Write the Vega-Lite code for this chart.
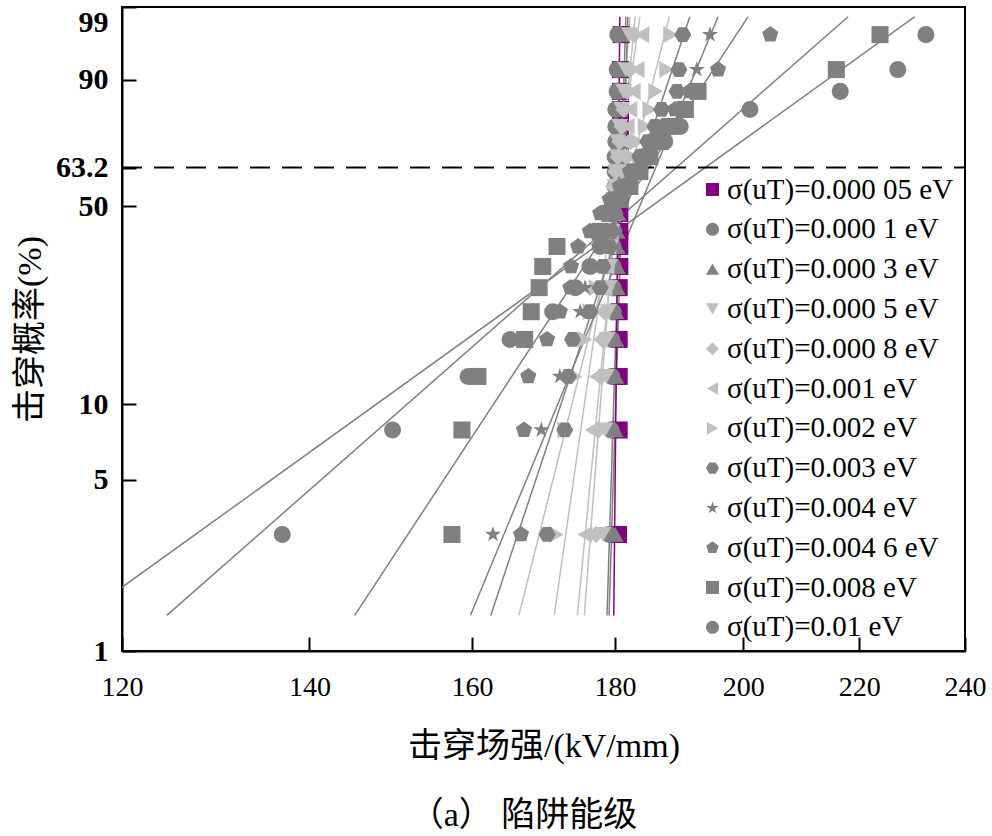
{
  "$schema": "https://vega.github.io/schema/vega-lite/v6.json",
  "width": 843,
  "height": 644,
  "autosize": {"type": "none"},
  "padding": {"left": 122, "top": 7, "right": 27, "bottom": 185},
  "background": "white",
  "config": {
    "view": {"stroke": "black", "strokeWidth": 2},
    "font": "Liberation Serif, Noto Sans CJK SC",
    "axis": {"grid": false, "domainColor": "black", "domainWidth": 2, "tickColor": "black", "tickWidth": 2, "labelColor": "black", "titleColor": "black"}
  },
  "title": {"text": "（a） 陷阱能级", "orient": "bottom", "offset": 36, "dx": -20, "fontSize": 34, "fontWeight": "normal", "font": "Liberation Serif, Noto Sans CJK SC", "color": "black"},
  "datasets": {
    "fits": [
      {"k": "0.000 05", "p": 1.4, "x": 179.8}, {"k": "0.000 05", "p": 98.5, "x": 180.7},
      {"k": "0.000 1", "p": 1.4, "x": 179.1}, {"k": "0.000 1", "p": 98.5, "x": 181.9},
      {"k": "0.000 3", "p": 1.4, "x": 178.8}, {"k": "0.000 3", "p": 98.5, "x": 181.6},
      {"k": "0.000 5", "p": 1.4, "x": 175.5}, {"k": "0.000 5", "p": 98.5, "x": 182.2},
      {"k": "0.000 8", "p": 1.4, "x": 174.5}, {"k": "0.000 8", "p": 98.5, "x": 183.0},
      {"k": "0.001", "p": 1.4, "x": 171.2}, {"k": "0.001", "p": 98.5, "x": 183.7},
      {"k": "0.002", "p": 1.4, "x": 166.3}, {"k": "0.002", "p": 98.5, "x": 188.2},
      {"k": "0.003", "p": 1.4, "x": 162.5}, {"k": "0.003", "p": 98.5, "x": 191.4},
      {"k": "0.004", "p": 1.4, "x": 159.8}, {"k": "0.004", "p": 98.5, "x": 195.9},
      {"k": "0.004 6", "p": 1.4, "x": 145.3}, {"k": "0.004 6", "p": 98.5, "x": 200.8},
      {"k": "0.008", "p": 1.4, "x": 124.5}, {"k": "0.008", "p": 98.5, "x": 218.0},
      {"k": "0.01", "p": 1.4, "x": 116.2}, {"k": "0.01", "p": 98.5, "x": 230.3}
    ],
    "ref": [{"p": 63.2, "x": 120}, {"p": 63.2, "x": 240}],
    "pts": [
      {"s":"0.000 05","p":3.0,"x":180.5},{"s":"0.000 05","p":7.9,"x":180.6},{"s":"0.000 05","p":12.8,"x":180.6},{"s":"0.000 05","p":17.7,"x":180.6},{"s":"0.000 05","p":22.4,"x":180.6},{"s":"0.000 05","p":27.3,"x":180.6},{"s":"0.000 05","p":32.3,"x":180.7},{"s":"0.000 05","p":37.6,"x":180.7},{"s":"0.000 05","p":42.0,"x":180.7},{"s":"0.000 05","p":47.6,"x":180.7},{"s":"0.000 05","p":52.2,"x":180.7},{"s":"0.000 05","p":56.6,"x":180.7},{"s":"0.000 05","p":61.8,"x":180.7},{"s":"0.000 05","p":67.0,"x":180.8},{"s":"0.000 05","p":72.2,"x":180.8},{"s":"0.000 05","p":77.2,"x":180.8},{"s":"0.000 05","p":82.4,"x":180.8},{"s":"0.000 05","p":87.3,"x":180.8},{"s":"0.000 05","p":92.1,"x":180.8},{"s":"0.000 05","p":97.1,"x":180.9},
      {"s":"0.000 1","p":3.0,"x":179.1},{"s":"0.000 1","p":7.9,"x":179.4},{"s":"0.000 1","p":12.8,"x":179.5},{"s":"0.000 1","p":17.7,"x":179.5},{"s":"0.000 1","p":22.4,"x":179.7},{"s":"0.000 1","p":27.3,"x":179.7},{"s":"0.000 1","p":32.3,"x":179.7},{"s":"0.000 1","p":37.6,"x":179.7},{"s":"0.000 1","p":42.0,"x":179.8},{"s":"0.000 1","p":47.6,"x":179.8},{"s":"0.000 1","p":52.2,"x":179.8},{"s":"0.000 1","p":56.6,"x":180.0},{"s":"0.000 1","p":61.8,"x":180.0},{"s":"0.000 1","p":67.0,"x":180.0},{"s":"0.000 1","p":72.2,"x":180.1},{"s":"0.000 1","p":77.2,"x":180.1},{"s":"0.000 1","p":82.4,"x":180.1},{"s":"0.000 1","p":87.3,"x":180.3},{"s":"0.000 1","p":92.1,"x":180.3},{"s":"0.000 1","p":97.1,"x":180.4},
      {"s":"0.000 3","p":3.0,"x":180.0},{"s":"0.000 3","p":7.9,"x":180.0},{"s":"0.000 3","p":12.8,"x":180.1},{"s":"0.000 3","p":17.7,"x":180.1},{"s":"0.000 3","p":22.4,"x":180.1},{"s":"0.000 3","p":27.3,"x":180.3},{"s":"0.000 3","p":32.3,"x":180.3},{"s":"0.000 3","p":37.6,"x":180.3},{"s":"0.000 3","p":42.0,"x":180.3},{"s":"0.000 3","p":47.6,"x":180.4},{"s":"0.000 3","p":52.2,"x":180.4},{"s":"0.000 3","p":56.6,"x":180.4},{"s":"0.000 3","p":61.8,"x":180.4},{"s":"0.000 3","p":67.0,"x":180.6},{"s":"0.000 3","p":72.2,"x":180.6},{"s":"0.000 3","p":77.2,"x":180.6},{"s":"0.000 3","p":82.4,"x":180.7},{"s":"0.000 3","p":87.3,"x":180.7},{"s":"0.000 3","p":92.1,"x":180.9},{"s":"0.000 3","p":97.1,"x":180.9},
      {"s":"0.000 5","p":3.0,"x":178.2},{"s":"0.000 5","p":7.9,"x":178.5},{"s":"0.000 5","p":12.8,"x":178.7},{"s":"0.000 5","p":17.7,"x":178.8},{"s":"0.000 5","p":22.4,"x":179.0},{"s":"0.000 5","p":27.3,"x":179.1},{"s":"0.000 5","p":32.3,"x":179.2},{"s":"0.000 5","p":37.6,"x":179.4},{"s":"0.000 5","p":42.0,"x":179.5},{"s":"0.000 5","p":47.6,"x":179.7},{"s":"0.000 5","p":52.2,"x":179.8},{"s":"0.000 5","p":56.6,"x":180.0},{"s":"0.000 5","p":61.8,"x":180.1},{"s":"0.000 5","p":67.0,"x":180.3},{"s":"0.000 5","p":72.2,"x":180.4},{"s":"0.000 5","p":77.2,"x":180.7},{"s":"0.000 5","p":82.4,"x":181.0},{"s":"0.000 5","p":87.3,"x":181.3},{"s":"0.000 5","p":92.1,"x":181.6},{"s":"0.000 5","p":97.1,"x":182.1},
      {"s":"0.000 8","p":3.0,"x":177.2},{"s":"0.000 8","p":7.9,"x":177.5},{"s":"0.000 8","p":12.8,"x":177.8},{"s":"0.000 8","p":17.7,"x":178.1},{"s":"0.000 8","p":22.4,"x":178.4},{"s":"0.000 8","p":27.3,"x":178.7},{"s":"0.000 8","p":32.3,"x":178.8},{"s":"0.000 8","p":37.6,"x":179.0},{"s":"0.000 8","p":42.0,"x":179.2},{"s":"0.000 8","p":47.6,"x":179.4},{"s":"0.000 8","p":52.2,"x":179.7},{"s":"0.000 8","p":56.6,"x":179.8},{"s":"0.000 8","p":61.8,"x":180.1},{"s":"0.000 8","p":67.0,"x":180.4},{"s":"0.000 8","p":72.2,"x":180.7},{"s":"0.000 8","p":77.2,"x":181.0},{"s":"0.000 8","p":82.4,"x":181.3},{"s":"0.000 8","p":87.3,"x":181.8},{"s":"0.000 8","p":92.1,"x":182.2},{"s":"0.000 8","p":97.1,"x":182.8},
      {"s":"0.001","p":3.0,"x":175.6},{"s":"0.001","p":7.9,"x":176.6},{"s":"0.001","p":12.8,"x":177.2},{"s":"0.001","p":17.7,"x":177.8},{"s":"0.001","p":22.4,"x":178.2},{"s":"0.001","p":27.3,"x":178.5},{"s":"0.001","p":32.3,"x":178.8},{"s":"0.001","p":37.6,"x":179.1},{"s":"0.001","p":42.0,"x":179.4},{"s":"0.001","p":47.6,"x":179.7},{"s":"0.001","p":52.2,"x":180.0},{"s":"0.001","p":56.6,"x":180.3},{"s":"0.001","p":61.8,"x":180.6},{"s":"0.001","p":67.0,"x":180.9},{"s":"0.001","p":72.2,"x":181.3},{"s":"0.001","p":77.2,"x":181.8},{"s":"0.001","p":82.4,"x":182.2},{"s":"0.001","p":87.3,"x":182.7},{"s":"0.001","p":92.1,"x":183.3},{"s":"0.001","p":97.1,"x":184.0},
      {"s":"0.002","p":3.0,"x":171.5},{"s":"0.002","p":7.9,"x":172.7},{"s":"0.002","p":12.8,"x":174.2},{"s":"0.002","p":17.7,"x":175.6},{"s":"0.002","p":22.4,"x":176.3},{"s":"0.002","p":27.3,"x":177.2},{"s":"0.002","p":32.3,"x":177.8},{"s":"0.002","p":37.6,"x":178.4},{"s":"0.002","p":42.0,"x":179.0},{"s":"0.002","p":47.6,"x":179.5},{"s":"0.002","p":52.2,"x":180.3},{"s":"0.002","p":56.6,"x":181.0},{"s":"0.002","p":61.8,"x":181.8},{"s":"0.002","p":67.0,"x":182.5},{"s":"0.002","p":72.2,"x":183.3},{"s":"0.002","p":77.2,"x":184.5},{"s":"0.002","p":82.4,"x":185.2},{"s":"0.002","p":87.3,"x":186.1},{"s":"0.002","p":92.1,"x":187.8},{"s":"0.002","p":97.1,"x":188.4},
      {"s":"0.003","p":3.0,"x":170.2},{"s":"0.003","p":7.9,"x":172.7},{"s":"0.003","p":12.8,"x":173.2},{"s":"0.003","p":17.7,"x":173.8},{"s":"0.003","p":22.4,"x":176.3},{"s":"0.003","p":27.3,"x":177.8},{"s":"0.003","p":32.3,"x":178.2},{"s":"0.003","p":37.6,"x":179.2},{"s":"0.003","p":42.0,"x":179.5},{"s":"0.003","p":47.6,"x":180.0},{"s":"0.003","p":52.2,"x":180.7},{"s":"0.003","p":56.6,"x":181.8},{"s":"0.003","p":61.8,"x":182.5},{"s":"0.003","p":67.0,"x":183.7},{"s":"0.003","p":72.2,"x":184.9},{"s":"0.003","p":77.2,"x":186.0},{"s":"0.003","p":82.4,"x":187.0},{"s":"0.003","p":87.3,"x":189.4},{"s":"0.003","p":92.1,"x":189.7},{"s":"0.003","p":97.1,"x":190.3},
      {"s":"0.004","p":3.0,"x":162.8},{"s":"0.004","p":7.9,"x":169.4},{"s":"0.004","p":12.8,"x":172.0},{"s":"0.004","p":17.7,"x":173.8},{"s":"0.004","p":22.4,"x":174.9},{"s":"0.004","p":27.3,"x":175.6},{"s":"0.004","p":32.3,"x":176.6},{"s":"0.004","p":37.6,"x":177.5},{"s":"0.004","p":42.0,"x":178.4},{"s":"0.004","p":47.6,"x":179.2},{"s":"0.004","p":52.2,"x":180.3},{"s":"0.004","p":56.6,"x":181.5},{"s":"0.004","p":61.8,"x":183.0},{"s":"0.004","p":67.0,"x":184.5},{"s":"0.004","p":72.2,"x":186.0},{"s":"0.004","p":77.2,"x":187.5},{"s":"0.004","p":82.4,"x":189.9},{"s":"0.004","p":87.3,"x":191.4},{"s":"0.004","p":92.1,"x":192.5},{"s":"0.004","p":97.1,"x":194.6},
      {"s":"0.004 6","p":3.0,"x":166.6},{"s":"0.004 6","p":7.9,"x":167.0},{"s":"0.004 6","p":12.8,"x":167.6},{"s":"0.004 6","p":17.7,"x":170.2},{"s":"0.004 6","p":22.4,"x":172.0},{"s":"0.004 6","p":27.3,"x":173.5},{"s":"0.004 6","p":32.3,"x":173.6},{"s":"0.004 6","p":37.6,"x":174.6},{"s":"0.004 6","p":42.0,"x":176.3},{"s":"0.004 6","p":47.6,"x":177.8},{"s":"0.004 6","p":52.2,"x":179.2},{"s":"0.004 6","p":56.6,"x":180.7},{"s":"0.004 6","p":61.8,"x":182.2},{"s":"0.004 6","p":67.0,"x":183.7},{"s":"0.004 6","p":72.2,"x":185.2},{"s":"0.004 6","p":77.2,"x":187.1},{"s":"0.004 6","p":82.4,"x":189.1},{"s":"0.004 6","p":87.3,"x":191.4},{"s":"0.004 6","p":92.1,"x":195.9},{"s":"0.004 6","p":97.1,"x":204.5},
      {"s":"0.008","p":3.0,"x":157.4},{"s":"0.008","p":7.9,"x":158.7},{"s":"0.008","p":12.8,"x":160.8},{"s":"0.008","p":17.7,"x":167.1},{"s":"0.008","p":22.4,"x":168.0},{"s":"0.008","p":27.3,"x":169.1},{"s":"0.008","p":32.3,"x":169.6},{"s":"0.008","p":37.6,"x":171.6},{"s":"0.008","p":42.0,"x":177.8},{"s":"0.008","p":47.6,"x":179.2},{"s":"0.008","p":52.2,"x":180.7},{"s":"0.008","p":56.6,"x":182.2},{"s":"0.008","p":61.8,"x":183.7},{"s":"0.008","p":67.0,"x":185.2},{"s":"0.008","p":72.2,"x":186.8},{"s":"0.008","p":77.2,"x":188.3},{"s":"0.008","p":82.4,"x":190.7},{"s":"0.008","p":87.3,"x":192.7},{"s":"0.008","p":92.1,"x":215.9},{"s":"0.008","p":97.1,"x":223.8},
      {"s":"0.01","p":3.0,"x":136.9},{"s":"0.01","p":7.9,"x":149.9},{"s":"0.01","p":12.8,"x":159.5},{"s":"0.01","p":17.7,"x":165.1},{"s":"0.01","p":22.4,"x":171.0},{"s":"0.01","p":27.3,"x":174.2},{"s":"0.01","p":32.3,"x":176.3},{"s":"0.01","p":37.6,"x":177.8},{"s":"0.01","p":42.0,"x":178.5},{"s":"0.01","p":47.6,"x":179.5},{"s":"0.01","p":52.2,"x":180.7},{"s":"0.01","p":56.6,"x":182.2},{"s":"0.01","p":61.8,"x":183.7},{"s":"0.01","p":67.0,"x":185.2},{"s":"0.01","p":72.2,"x":187.5},{"s":"0.01","p":77.2,"x":189.9},{"s":"0.01","p":82.4,"x":201.1},{"s":"0.01","p":87.3,"x":216.6},{"s":"0.01","p":92.1,"x":227.1},{"s":"0.01","p":97.1,"x":232.4}
    ]
  },
  "layer": [
    {
      "data": {"name": "fits"},
      "transform": [
        {"filter": {"field": "k", "oneOf": ["0.000 5", "0.000 8", "0.001", "0.002"]}},
        {"calculate": "log(-log(1 - datum.p / 100))", "as": "wy"}
      ],
      "mark": {"type": "line", "clip": true, "strokeWidth": 1.5, "color": "#c0c0c0"},
      "encoding": {
        "x": {
          "field": "x", "type": "quantitative",
          "scale": {"type": "log", "domain": [120, 240], "nice": false},
          "axis": {"values": [120, 140, 160, 180, 200, 220, 240], "format": "d", "title": "击穿场强/(kV/mm)", "tickSize": -14, "labelPadding": 36, "labelFontSize": 28, "labelFont": "Liberation Serif", "titleFontSize": 34, "titleFontWeight": "normal", "titleFont": "Liberation Serif, Noto Sans CJK SC", "titlePadding": 28, "labelFlush": false, "labelOverlap": false}
        },
        "y": {
          "field": "wy", "type": "quantitative",
          "scale": {"domain": [-4.6002, 1.5272], "nice": false, "zero": false},
          "axis": {"values": [-4.6002, -2.9702, -2.2504, -0.3665, -0.0003, 0.834, 1.5272], "labelExpr": "datum.value < -4 ? '1' : datum.value < -2.6 ? '5' : datum.value < -1 ? '10' : datum.value < -0.2 ? '50' : datum.value < 0.4 ? '63.2' : datum.value < 1.2 ? '90' : '99'", "title": "击穿概率(%)", "tickSize": -14, "labelPadding": 28, "labelFontSize": 30, "labelFontWeight": "bold", "labelFont": "Liberation Serif", "labelBaseline": {"condition": {"test": "datum.value > 1.5", "value": "top"}, "value": "middle"}, "titleFontSize": 34, "titleFontWeight": "normal", "titleFont": "Liberation Serif, Noto Sans CJK SC", "titlePadding": 8, "labelFlush": false, "labelOverlap": false}
        },
        "detail": {"field": "k"},
        "order": {"field": "p", "type": "quantitative"}
      }
    },
    {
      "data": {"name": "fits"},
      "transform": [
        {"filter": {"field": "k", "oneOf": ["0.000 1", "0.000 3", "0.003", "0.004", "0.004 6", "0.008", "0.01"]}},
        {"calculate": "log(-log(1 - datum.p / 100))", "as": "wy"}
      ],
      "mark": {"type": "line", "clip": true, "strokeWidth": 1.5, "color": "#808080"},
      "encoding": {
        "x": {"field": "x", "type": "quantitative", "title": "击穿场强/(kV/mm)"},
        "y": {"field": "wy", "type": "quantitative", "title": "击穿概率(%)"},
        "detail": {"field": "k"},
        "order": {"field": "p", "type": "quantitative"}
      }
    },
    {
      "data": {"name": "fits"},
      "transform": [
        {"filter": {"field": "k", "equal": "0.000 05"}},
        {"calculate": "log(-log(1 - datum.p / 100))", "as": "wy"}
      ],
      "mark": {"type": "line", "clip": true, "strokeWidth": 1.5, "color": "#800080"},
      "encoding": {
        "x": {"field": "x", "type": "quantitative", "title": "击穿场强/(kV/mm)"},
        "y": {"field": "wy", "type": "quantitative", "title": "击穿概率(%)"},
        "order": {"field": "p", "type": "quantitative"}
      }
    },
    {
      "data": {"name": "ref"},
      "transform": [{"calculate": "log(-log(1 - datum.p / 100))", "as": "wy"}],
      "mark": {"type": "line", "color": "black", "strokeWidth": 2, "strokeDash": [20, 12]},
      "encoding": {
        "x": {"field": "x", "type": "quantitative", "title": "击穿场强/(kV/mm)"},
        "y": {"field": "wy", "type": "quantitative", "title": "击穿概率(%)"}
      }
    },
    {
      "data": {"name": "pts"},
      "transform": [{"calculate": "log(-log(1 - datum.p / 100))", "as": "wy"}],
      "mark": {"type": "point", "filled": true, "opacity": 1, "size": 290},
      "encoding": {
        "x": {"field": "x", "type": "quantitative", "title": "击穿场强/(kV/mm)"},
        "y": {"field": "wy", "type": "quantitative", "title": "击穿概率(%)"},
        "color": {
          "field": "s", "type": "nominal",
          "scale": {
            "domain": ["0.000 05", "0.000 1", "0.000 3", "0.000 5", "0.000 8", "0.001", "0.002", "0.003", "0.004", "0.004 6", "0.008", "0.01"],
            "range": ["#800080", "#808080", "#808080", "#c0c0c0", "#c0c0c0", "#c0c0c0", "#c0c0c0", "#808080", "#808080", "#808080", "#808080", "#808080"]
          },
          "legend": {"orient": "none", "legendX": 576, "legendY": 168, "title": null, "padding": 0, "symbolSize": 170, "labelFontSize": 29, "labelFont": "Liberation Serif", "labelColor": "black", "labelLimit": 400, "labelOffset": 0, "rowPadding": 9.8, "labelExpr": "'σ(uT)=' + datum.label + ' eV'"}
        },
        "shape": {
          "field": "s", "type": "nominal",
          "scale": {
            "domain": ["0.000 05", "0.000 1", "0.000 3", "0.000 5", "0.000 8", "0.001", "0.002", "0.003", "0.004", "0.004 6", "0.008", "0.01"],
            "range": ["square", "circle", "triangle-up", "triangle-down", "diamond", "triangle-left", "triangle-right", "M-0.5,-0.866L0.5,-0.866L1,0L0.5,0.866L-0.5,0.866L-1,0Z", "M0,-1L0.2245,-0.309L0.951,-0.309L0.363,0.118L0.588,0.809L0,0.382L-0.588,0.809L-0.363,0.118L-0.951,-0.309L-0.2245,-0.309Z", "M0,-1L0.951,-0.309L0.588,0.809L-0.588,0.809L-0.951,-0.309Z", "square", "circle"]
          },
          "legend": {"orient": "none", "legendX": 576, "legendY": 168, "title": null, "padding": 0, "symbolSize": 170, "labelFontSize": 29, "labelFont": "Liberation Serif", "labelColor": "black", "labelLimit": 400, "labelOffset": 0, "rowPadding": 9.8, "labelExpr": "'σ(uT)=' + datum.label + ' eV'"}
        }
      }
    }
  ]
}
